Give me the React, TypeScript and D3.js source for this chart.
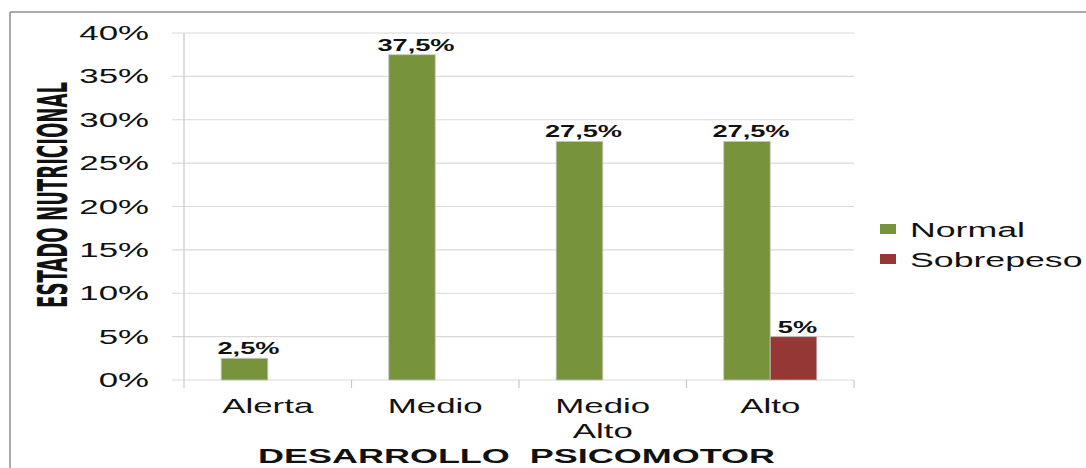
import React from "react";
import * as d3 from "d3";

const categories: string[][] = [["Alerta"], ["Medio"], ["Medio", "Alto"], ["Alto"]];
const categoryKeys = ["Alerta", "Medio", "Medio Alto", "Alto"];
const seriesNames = ["Normal", "Sobrepeso"];
const normalValues = [2.5, 37.5, 27.5, 27.5];
const sobrepesoValues = [0, 0, 0, 5];
const yTicks = [0, 5, 10, 15, 20, 25, 30, 35, 40];
const colors = ["#77933C", "#953735"];
const yTitle = "ESTADO NUTRICIONAL";
const xTitle = "DESARROLLO  PSICOMOTOR";

const W = 1086;
const H = 468;
const plotLeft = 184;
const plotRight = 854;
const plotTop = 33;
const plotBottom = 380;
const SX = 1.7;

export default function App() {
  const x = d3.scaleBand<string>().domain(categoryKeys).range([plotLeft, plotRight]).paddingInner(0).paddingOuter(0);
  const xs = d3.scaleBand<string>().domain(seriesNames).range([0, x.bandwidth()]).paddingInner(0).paddingOuter(0.8);
  const y = d3.scaleLinear().domain([0, 40]).range([plotBottom, plotTop]);
  const series = [normalValues, sobrepesoValues];
  const fmt = (v: number) => d3.format("~")(v).replace(".", ",") + "%";
  const font = "'Liberation Sans', Arial, sans-serif";

  const boundaries = [...categoryKeys.map((k) => x(k) as number), plotRight];

  return (
    <svg width={W} height={H} style={{ position: "absolute", left: 0, top: 0, background: "#fff" }} fontFamily={font}>
      {/* outer frame */}
      <line x1={10} y1={12} x2={W} y2={12} stroke="#8c8c8c" strokeWidth={1.5} />
      <line x1={10} y1={12} x2={10} y2={H} stroke="#8c8c8c" strokeWidth={1.5} />

      {/* gridlines */}
      {yTicks.map((t) => (
        <line key={"g" + t} x1={172} x2={plotRight} y1={y(t)} y2={y(t)} stroke="#d9d9d9" strokeWidth={1.2} />
      ))}
      {/* y axis */}
      <line x1={plotLeft} x2={plotLeft} y1={plotTop} y2={plotBottom + 8} stroke="#c8c8c8" strokeWidth={1.2} />
      {boundaries.slice(1).map((b, i) => (
        <line key={"xt" + i} x1={b} x2={b} y1={plotBottom} y2={plotBottom + 8} stroke="#c8c8c8" strokeWidth={1.2} />
      ))}

      {/* y tick labels */}
      {yTicks.map((t) => (
        <text
          key={"yl" + t}
          transform={`translate(149, ${y(t) + 7}) scale(${SX}, 1)`}
          textAnchor="end"
          fontSize={20.5}
          fill="#111"
        >
          {t + "%"}
        </text>
      ))}

      {/* bars */}
      {series.map((vals, si) =>
        vals.map((v, ci) => {
          if (v <= 0) return null;
          const bx = (x(categoryKeys[ci]) as number) + (xs(seriesNames[si]) as number);
          return (
            <g key={"b" + si + "-" + ci}>
              <rect
                x={bx}
                y={y(v)}
                width={xs.bandwidth()}
                height={plotBottom - y(v)}
                fill={colors[si]}
                stroke="rgba(200,200,200,0.7)"
                strokeWidth={1}
              />
              <text
                transform={`translate(${bx + xs.bandwidth() / 2 + 4}, ${y(v) - 4}) scale(1.65, 1)`}
                textAnchor="middle"
                fontSize={16.5}
                fontWeight="bold"
                fill="#111"
              >
                {fmt(v)}
              </text>
            </g>
          );
        })
      )}

      {/* x tick labels */}
      {categories.map((lines, ci) => {
        const cx = (x(categoryKeys[ci]) as number) + x.bandwidth() / 2;
        return (
          <g key={"xl" + ci}>
            {lines.map((l, li) => (
              <text
                key={li}
                transform={`translate(${cx}, ${413 + li * 25}) scale(${SX}, 1)`}
                textAnchor="middle"
                fontSize={20.5}
                fill="#111"
              >
                {l}
              </text>
            ))}
          </g>
        );
      })}

      {/* x title */}
      <text
        x={516.5}
        y={463}
        textAnchor="middle"
        fontSize={21}
        fontWeight="bold"
        fill="#111"
        textLength={517}
        lengthAdjust="spacingAndGlyphs"
        style={{ whiteSpace: "pre" }}
      >
        {xTitle}
      </text>

      {/* y title */}
      <text
        transform={`translate(67,195) scale(${SX}, 1) rotate(-90)`}
        textAnchor="middle"
        fontSize={24}
        fontWeight="bold"
        fill="#111"
        fontFamily="'Liberation Sans Narrow', 'Arial Narrow', 'DejaVu Sans Condensed', sans-serif"
        textLength={226}
        lengthAdjust="spacingAndGlyphs"
      >
        {yTitle}
      </text>

      {/* legend */}
      {seriesNames.map((s, i) => (
        <g key={"lg" + i} transform={`translate(880, ${229 + i * 30})`}>
          <rect x={0} y={-5} width={16} height={10} fill={colors[i]} />
          <text transform={`translate(30, 7.5) scale(${SX}, 1)`} fontSize={21} fill="#111">
            {s}
          </text>
        </g>
      ))}
    </svg>
  );
}
